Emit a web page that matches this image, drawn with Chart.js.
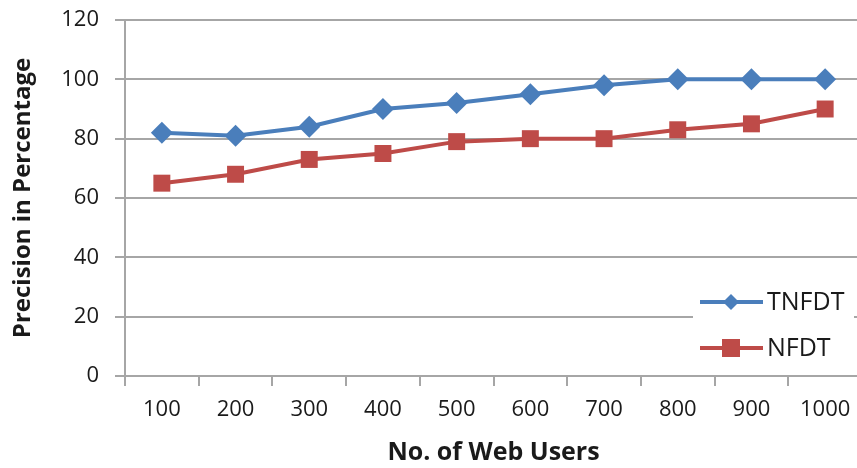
<!DOCTYPE html>
<html>
<head>
<meta charset="utf-8">
<script src="https://cdn.jsdelivr.net/npm/chart.js@4/dist/chart.umd.min.js"></script>
<style>
  html, body { margin: 0; padding: 0; background: #fff; overflow: hidden; }
  #wrap { width: 857px; height: 468px; position: relative; overflow: hidden; }
  canvas { display: block; }
</style>
</head>
<body>
<!-- the plot area runs past the right edge of the frame, so the canvas is a bit wider than the frame -->
<div id="wrap"><canvas id="c" width="874" height="468"></canvas></div>
<script>
const categories = ['100', '200', '300', '400', '500', '600', '700', '800', '900', '1000'];
const tnfdt = [82, 81, 84, 90, 92, 95, 98, 100, 100, 100];
const nfdt = [65, 68, 73, 75, 79, 80, 80, 83, 85, 90];
const yTicks = [0, 20, 40, 60, 80, 100, 120];

const FONT = '"Open Sans", Lato, sans-serif';
const BLUE = '#4A7EBB';
const RED = '#BE4B48';
const TEXT = '#1a1a1a';
const GRID = '#a6a6a6';

// Legend drawn inside the plot area, bottom right, on a white backing box
const insideLegend = {
  id: 'insideLegend',
  afterDatasetsDraw(chart) {
    const ctx = chart.ctx;
    const boxX = 693, boxY = 283, boxW = 161, boxH = 80;
    ctx.save();
    ctx.fillStyle = '#ffffff';
    ctx.fillRect(boxX, boxY, boxW, boxH);
    const rows = [302, 348];
    chart.data.datasets.forEach((ds, i) => {
      const y = rows[i];
      ctx.strokeStyle = ds.borderColor;
      ctx.lineWidth = 4;
      ctx.beginPath();
      ctx.moveTo(700, y);
      ctx.lineTo(763, y);
      ctx.stroke();
      ctx.fillStyle = ds.pointBackgroundColor;
      const cx = 731;
      if (ds.pointStyle === 'rectRot') {
        const r = 8;
        ctx.beginPath();
        ctx.moveTo(cx, y - r); ctx.lineTo(cx + r, y); ctx.lineTo(cx, y + r); ctx.lineTo(cx - r, y);
        ctx.closePath(); ctx.fill();
      } else {
        ctx.fillRect(cx - 9, y - 9, 18, 18);
      }
      ctx.fillStyle = TEXT;
      ctx.font = '25px ' + FONT;
      ctx.textBaseline = 'middle';
      ctx.textAlign = 'left';
      ctx.fillText(ds.label, 767, y + 1);
    });
    ctx.restore();
  }
};

new Chart(document.getElementById('c'), {
  type: 'line',
  data: {
    labels: categories,
    datasets: [
      {
        label: 'TNFDT', data: tnfdt,
        borderColor: BLUE, backgroundColor: BLUE, pointBackgroundColor: BLUE, pointBorderColor: BLUE,
        borderWidth: 4, pointStyle: 'rectRot', pointRadius: 11, pointBorderWidth: 0,
        tension: 0, fill: false
      },
      {
        label: 'NFDT', data: nfdt,
        borderColor: RED, backgroundColor: RED, pointBackgroundColor: RED, pointBorderColor: RED,
        borderWidth: 4, pointStyle: 'rect', pointRadius: 12, pointBorderWidth: 0,
        tension: 0, fill: false
      }
    ]
  },
  options: {
    responsive: false,
    animation: false,
    events: [],
    layout: { padding: { top: 20, right: 0, left: 0, bottom: 0 } },
    plugins: { legend: { display: false }, tooltip: { enabled: false } },
    scales: {
      x: {
        offset: true,
        grid: { display: true, offset: true, drawOnChartArea: false, drawTicks: true, tickLength: 10, color: GRID, lineWidth: 2 },
        border: { display: true, color: GRID, width: 2 },
        ticks: { color: TEXT, font: { family: FONT, size: 22 }, padding: 11, maxRotation: 0, autoSkip: false },
        title: { display: true, text: 'No. of Web Users', color: TEXT, font: { family: FONT, size: 25, weight: 'bold' }, padding: { top: 5, bottom: 0 } },
        afterFit(s) { s.height = 92; s.paddingLeft = 0; s.paddingRight = 0; }
      },
      y: {
        min: 0, max: 120,
        afterBuildTicks(s) { s.ticks = yTicks.map(v => ({ value: v })); },
        grid: { color: GRID, lineWidth: 2, tickLength: 10, drawTicks: true },
        border: { display: true, color: GRID, width: 2 },
        ticks: { color: TEXT, font: { family: FONT, size: 22 }, padding: 16 },
        title: { display: true, text: 'Precision in Percentage', color: TEXT, font: { family: FONT, size: 24, weight: 'bold' }, padding: { top: 9, bottom: 0 } },
        afterFit(s) { s.width = 125; s.paddingTop = 0; s.paddingBottom = 0; }
      }
    }
  },
  plugins: [insideLegend]
});
</script>
</body>
</html>
